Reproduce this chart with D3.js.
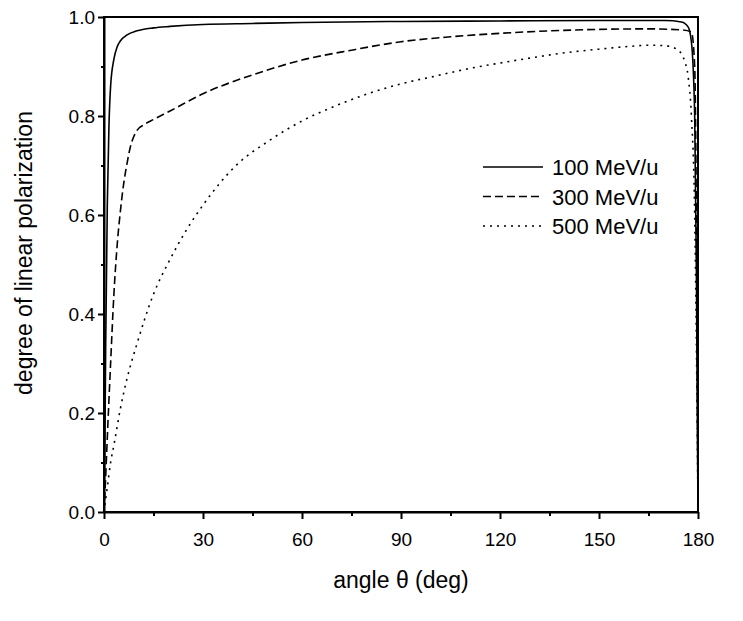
<!DOCTYPE html>
<html><head><meta charset="utf-8">
<script src="https://cdn.jsdelivr.net/npm/d3@7"></script>
<style>body{margin:0;background:#fff}svg{display:block}text{font-family:"Liberation Sans",Arial,sans-serif;fill:#000}</style>
</head><body>
<script>
const seriesNames = ["100 MeV/u", "300 MeV/u", "500 MeV/u"];
const angles100 = [0,0.25,0.5,1,1.5,2,3,4,5,7,10,15,20,30,45,60,90,120,150,170,175,177,178,179,179.5,180];
const pol100    = [0,0.12,0.33,0.62,0.78,0.86,0.915,0.94,0.952,0.964,0.972,0.978,0.981,0.985,0.987,0.989,0.991,0.992,0.993,0.993,0.99,0.98,0.95,0.8,0.5,0];
const angles300 = [0,0.5,1,2,3,4,5,6,7,8,9,10,12,15,20,30,45,60,75,90,105,120,135,150,165,175,178,179,179.5,180];
const pol300    = [0,0.07,0.15,0.3,0.44,0.54,0.61,0.665,0.705,0.738,0.758,0.771,0.782,0.793,0.81,0.845,0.883,0.913,0.933,0.95,0.96,0.967,0.972,0.975,0.976,0.974,0.97,0.9,0.6,0];
const angles500 = [0,1,2,3,5,7,10,15,20,25,30,40,50,60,70,80,90,100,110,120,130,140,150,160,165,170,173,175,176,177,178,179,179.5,180];
const pol500    = [0,0.05,0.1,0.135,0.21,0.27,0.34,0.44,0.51,0.57,0.62,0.7,0.75,0.79,0.82,0.845,0.865,0.88,0.895,0.907,0.918,0.928,0.935,0.941,0.943,0.942,0.937,0.925,0.91,0.88,0.8,0.6,0.35,0];
const xTicks = [0,30,60,90,120,150,180];
const yTicks = [0.0,0.2,0.4,0.6,0.8,1.0];

const W = 743, H = 621;
const m = {l:104, r:45, t:17, b:109};
const svg = d3.select("body").append("svg").attr("width", W).attr("height", H);
const x = d3.scaleLinear().domain([0,180]).range([m.l, W - m.r]);
const y = d3.scaleLinear().domain([0,1]).range([H - m.b, m.t]);

const series = [
  {name: seriesNames[0], a: angles100, v: pol100, dash: null},
  {name: seriesNames[1], a: angles300, v: pol300, dash: "8,4"},
  {name: seriesNames[2], a: angles500, v: pol500, dash: "2,5"}
];
const line = d3.line().x(d => x(d[0])).y(d => y(d[1])).curve(d3.curveMonotoneX);
series.forEach(s => {
  svg.append("path").datum(s.a.map((a,i) => [a, s.v[i]]))
    .attr("d", line).attr("fill","none").attr("stroke","#000")
    .attr("stroke-width",1.6).attr("stroke-dasharray", s.dash);
});

// axes
const xMinor = d3.range(15,180,30);
const yMinor = [0.1,0.3,0.5,0.7,0.9];
svg.append("g").attr("transform",`translate(0,${H-m.b})`)
  .call(d3.axisBottom(x).tickValues(xTicks).tickFormat(d3.format("d")).tickSize(7).tickPadding(14).tickSizeOuter(0));
svg.append("g").attr("transform",`translate(0,${H-m.b})`)
  .call(d3.axisBottom(x).tickValues(xMinor).tickFormat("").tickSize(4).tickSizeOuter(0))
  .select(".domain").remove();
svg.append("g").attr("transform",`translate(${m.l},0)`)
  .call(d3.axisLeft(y).tickValues(yTicks).tickFormat(d3.format(".1f")).tickSize(6).tickPadding(3).tickSizeOuter(0));
svg.append("g").attr("transform",`translate(${m.l},0)`)
  .call(d3.axisLeft(y).tickValues(yMinor).tickFormat("").tickSize(3).tickSizeOuter(0))
  .select(".domain").remove();
svg.selectAll(".tick line").attr("stroke-width",2);
svg.selectAll(".domain").attr("stroke-width",2);
svg.selectAll(".tick text").style("font-size","19px").style("font-family",'"Liberation Sans",Arial,sans-serif');

// frame
svg.append("rect").attr("x",m.l).attr("y",m.t).attr("width",W-m.r-m.l).attr("height",H-m.b-m.t)
  .attr("fill","none").attr("stroke","#000").attr("stroke-width",2);

// labels
svg.append("text").attr("x",(m.l+W-m.r)/2).attr("y",588).attr("text-anchor","middle")
  .style("font-size","23px").text("angle θ (deg)");
svg.append("text").attr("transform",`translate(32,253) rotate(-90)`).attr("text-anchor","middle")
  .style("font-size","23px").text("degree of linear polarization");

// legend
const lg = svg.append("g");
series.forEach((s,i) => {
  const yy = 167 + i*29.5;
  lg.append("line").attr("x1",483).attr("x2",543).attr("y1",yy).attr("y2",yy)
    .attr("stroke","#000").attr("stroke-width",1.6).attr("stroke-dasharray",s.dash);
  lg.append("text").attr("x",552).attr("y",yy+8).style("font-size","22px").text(s.name);
});
</script>
</body></html>
